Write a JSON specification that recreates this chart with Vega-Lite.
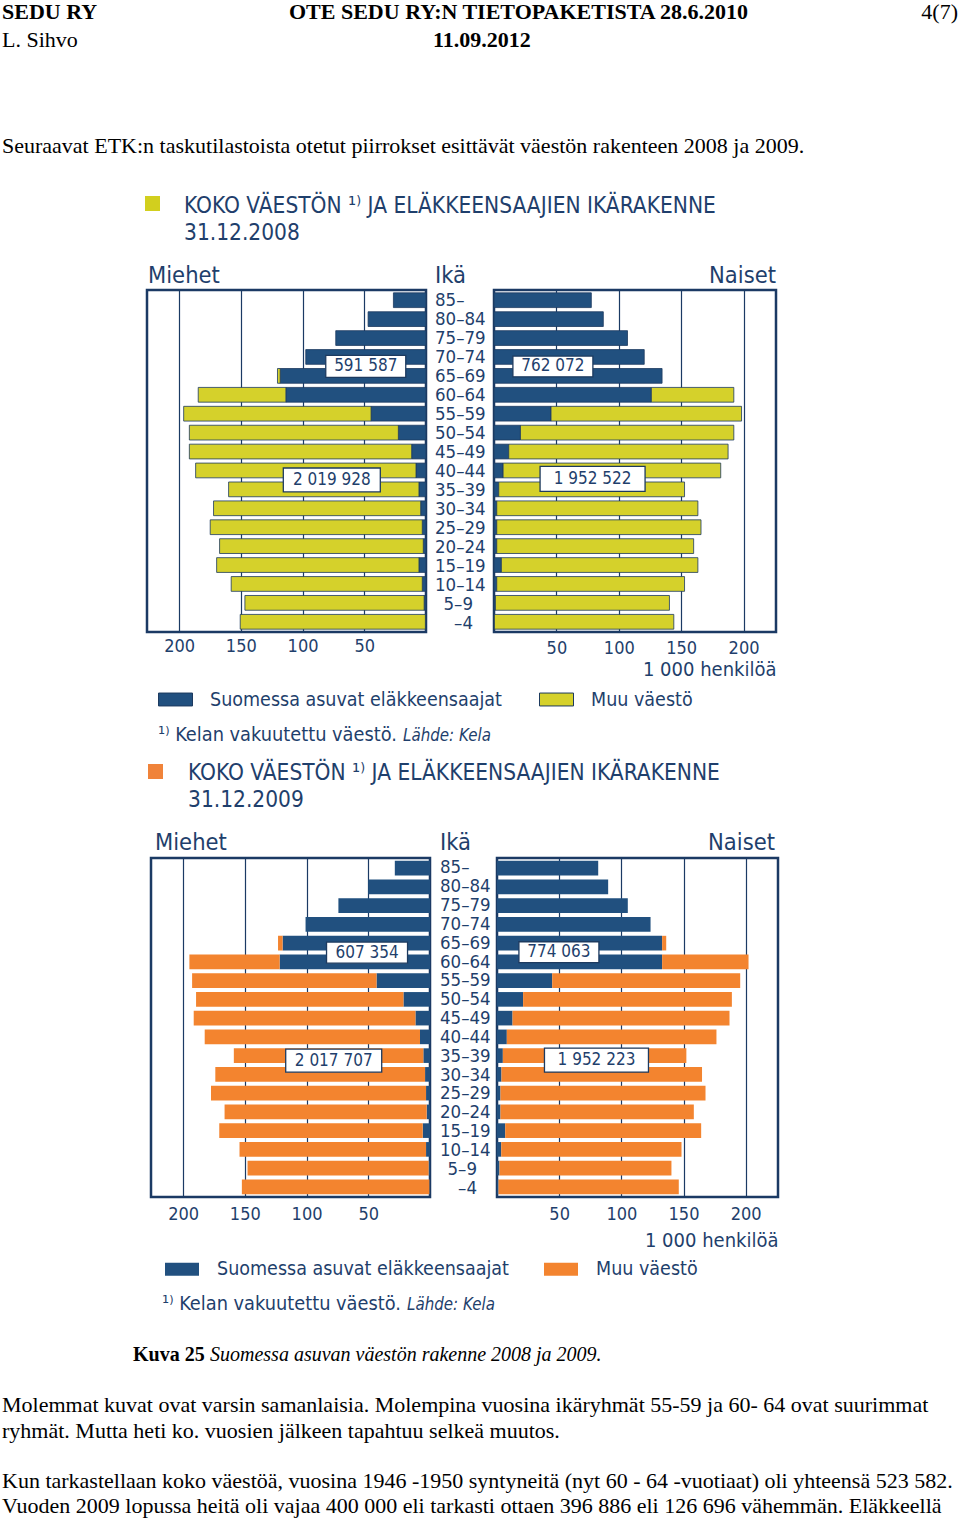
{
"$schema": "https://vega.github.io/schema/vega-lite/v6.json",
"padding": 0,
"background": "white",
"spacing": 0,
"resolve": {"scale": {"color": "independent"}, "legend": {"color": "independent"}},
"datasets": {
"ages": [{"age":"85–"},{"age":"80–84"},{"age":"75–79"},{"age":"70–74"},{"age":"65–69"},{"age":"60–64"},{"age":"55–59"},{"age":"50–54"},{"age":"45–49"},{"age":"40–44"},{"age":"35–39"},{"age":"30–34"},{"age":"25–29"},{"age":"20–24"},{"age":"15–19"},{"age":"10–14"},{"age":"5–9"},{"age":"–4"}],
"totals": [
{"year":2008,"sex":"Miehet","type":"Suomessa asuvat eläkkeensaajat","total":591587},
{"year":2008,"sex":"Miehet","type":"Muu väestö","total":2019928},
{"year":2008,"sex":"Naiset","type":"Suomessa asuvat eläkkeensaajat","total":762072},
{"year":2008,"sex":"Naiset","type":"Muu väestö","total":1952522},
{"year":2009,"sex":"Miehet","type":"Suomessa asuvat eläkkeensaajat","total":607354},
{"year":2009,"sex":"Miehet","type":"Muu väestö","total":2017707},
{"year":2009,"sex":"Naiset","type":"Suomessa asuvat eläkkeensaajat","total":774063},
{"year":2009,"sex":"Naiset","type":"Muu väestö","total":1952223}
],
"pop": [
{"year":2008,"sex":"Miehet","age":"85–","type":"Suomessa asuvat eläkkeensaajat","value":26.4},
{"year":2008,"sex":"Miehet","age":"80–84","type":"Suomessa asuvat eläkkeensaajat","value":46.9},
{"year":2008,"sex":"Miehet","age":"75–79","type":"Suomessa asuvat eläkkeensaajat","value":73.1},
{"year":2008,"sex":"Miehet","age":"70–74","type":"Suomessa asuvat eläkkeensaajat","value":97.4},
{"year":2008,"sex":"Miehet","age":"65–69","type":"Suomessa asuvat eläkkeensaajat","value":118.1},
{"year":2008,"sex":"Miehet","age":"60–64","type":"Suomessa asuvat eläkkeensaajat","value":113.5},
{"year":2008,"sex":"Miehet","age":"55–59","type":"Suomessa asuvat eläkkeensaajat","value":44.5},
{"year":2008,"sex":"Miehet","age":"50–54","type":"Suomessa asuvat eläkkeensaajat","value":22.4},
{"year":2008,"sex":"Miehet","age":"45–49","type":"Suomessa asuvat eläkkeensaajat","value":11.6},
{"year":2008,"sex":"Miehet","age":"40–44","type":"Suomessa asuvat eläkkeensaajat","value":8.1},
{"year":2008,"sex":"Miehet","age":"35–39","type":"Suomessa asuvat eläkkeensaajat","value":5.7},
{"year":2008,"sex":"Miehet","age":"30–34","type":"Suomessa asuvat eläkkeensaajat","value":4.3},
{"year":2008,"sex":"Miehet","age":"25–29","type":"Suomessa asuvat eläkkeensaajat","value":3.0},
{"year":2008,"sex":"Miehet","age":"20–24","type":"Suomessa asuvat eläkkeensaajat","value":2.2},
{"year":2008,"sex":"Miehet","age":"15–19","type":"Suomessa asuvat eläkkeensaajat","value":5.7},
{"year":2008,"sex":"Miehet","age":"10–14","type":"Suomessa asuvat eläkkeensaajat","value":3.0},
{"year":2008,"sex":"Miehet","age":"5–9","type":"Suomessa asuvat eläkkeensaajat","value":1.5},
{"year":2008,"sex":"Miehet","age":"–4","type":"Suomessa asuvat eläkkeensaajat","value":0.5},
{"year":2008,"sex":"Miehet","age":"65–69","type":"Muu väestö","value":2.2},
{"year":2008,"sex":"Miehet","age":"60–64","type":"Muu väestö","value":71.0},
{"year":2008,"sex":"Miehet","age":"55–59","type":"Muu väestö","value":151.8},
{"year":2008,"sex":"Miehet","age":"50–54","type":"Muu väestö","value":169.3},
{"year":2008,"sex":"Miehet","age":"45–49","type":"Muu väestö","value":180.1},
{"year":2008,"sex":"Miehet","age":"40–44","type":"Muu väestö","value":178.5},
{"year":2008,"sex":"Miehet","age":"35–39","type":"Muu väestö","value":154.2},
{"year":2008,"sex":"Miehet","age":"30–34","type":"Muu väestö","value":167.8},
{"year":2008,"sex":"Miehet","age":"25–29","type":"Muu väestö","value":171.8},
{"year":2008,"sex":"Miehet","age":"20–24","type":"Muu väestö","value":165.0},
{"year":2008,"sex":"Miehet","age":"15–19","type":"Muu väestö","value":163.9},
{"year":2008,"sex":"Miehet","age":"10–14","type":"Muu väestö","value":154.8},
{"year":2008,"sex":"Miehet","age":"5–9","type":"Muu väestö","value":145.2},
{"year":2008,"sex":"Miehet","age":"–4","type":"Muu väestö","value":150.0},
{"year":2008,"sex":"Naiset","age":"85–","type":"Suomessa asuvat eläkkeensaajat","value":78.0},
{"year":2008,"sex":"Naiset","age":"80–84","type":"Suomessa asuvat eläkkeensaajat","value":87.6},
{"year":2008,"sex":"Naiset","age":"75–79","type":"Suomessa asuvat eläkkeensaajat","value":107.0},
{"year":2008,"sex":"Naiset","age":"70–74","type":"Suomessa asuvat eläkkeensaajat","value":120.4},
{"year":2008,"sex":"Naiset","age":"65–69","type":"Suomessa asuvat eläkkeensaajat","value":134.7},
{"year":2008,"sex":"Naiset","age":"60–64","type":"Suomessa asuvat eläkkeensaajat","value":126.1},
{"year":2008,"sex":"Naiset","age":"55–59","type":"Suomessa asuvat eläkkeensaajat","value":45.7},
{"year":2008,"sex":"Naiset","age":"50–54","type":"Suomessa asuvat eläkkeensaajat","value":21.2},
{"year":2008,"sex":"Naiset","age":"45–49","type":"Suomessa asuvat eläkkeensaajat","value":11.8},
{"year":2008,"sex":"Naiset","age":"40–44","type":"Suomessa asuvat eläkkeensaajat","value":7.3},
{"year":2008,"sex":"Naiset","age":"35–39","type":"Suomessa asuvat eläkkeensaajat","value":3.8},
{"year":2008,"sex":"Naiset","age":"30–34","type":"Suomessa asuvat eläkkeensaajat","value":2.2},
{"year":2008,"sex":"Naiset","age":"25–29","type":"Suomessa asuvat eläkkeensaajat","value":2.2},
{"year":2008,"sex":"Naiset","age":"20–24","type":"Suomessa asuvat eläkkeensaajat","value":2.2},
{"year":2008,"sex":"Naiset","age":"15–19","type":"Suomessa asuvat eläkkeensaajat","value":5.9},
{"year":2008,"sex":"Naiset","age":"10–14","type":"Suomessa asuvat eläkkeensaajat","value":2.2},
{"year":2008,"sex":"Naiset","age":"5–9","type":"Suomessa asuvat eläkkeensaajat","value":1.1},
{"year":2008,"sex":"Naiset","age":"–4","type":"Suomessa asuvat eläkkeensaajat","value":0.3},
{"year":2008,"sex":"Naiset","age":"60–64","type":"Muu väestö","value":66.1},
{"year":2008,"sex":"Naiset","age":"55–59","type":"Muu väestö","value":152.7},
{"year":2008,"sex":"Naiset","age":"50–54","type":"Muu väestö","value":171.0},
{"year":2008,"sex":"Naiset","age":"45–49","type":"Muu väestö","value":175.8},
{"year":2008,"sex":"Naiset","age":"40–44","type":"Muu väestö","value":174.4},
{"year":2008,"sex":"Naiset","age":"35–39","type":"Muu väestö","value":148.9},
{"year":2008,"sex":"Naiset","age":"30–34","type":"Muu väestö","value":161.2},
{"year":2008,"sex":"Naiset","age":"25–29","type":"Muu väestö","value":163.7},
{"year":2008,"sex":"Naiset","age":"20–24","type":"Muu väestö","value":157.8},
{"year":2008,"sex":"Naiset","age":"15–19","type":"Muu väestö","value":157.5},
{"year":2008,"sex":"Naiset","age":"10–14","type":"Muu väestö","value":150.5},
{"year":2008,"sex":"Naiset","age":"5–9","type":"Muu väestö","value":139.5},
{"year":2008,"sex":"Naiset","age":"–4","type":"Muu väestö","value":143.8},
{"year":2009,"sex":"Miehet","age":"85–","type":"Suomessa asuvat eläkkeensaajat","value":28.5},
{"year":2009,"sex":"Miehet","age":"80–84","type":"Suomessa asuvat eläkkeensaajat","value":50.0},
{"year":2009,"sex":"Miehet","age":"75–79","type":"Suomessa asuvat eläkkeensaajat","value":74.2},
{"year":2009,"sex":"Miehet","age":"70–74","type":"Suomessa asuvat eläkkeensaajat","value":100.8},
{"year":2009,"sex":"Miehet","age":"65–69","type":"Suomessa asuvat eläkkeensaajat","value":119.4},
{"year":2009,"sex":"Miehet","age":"60–64","type":"Suomessa asuvat eläkkeensaajat","value":121.8},
{"year":2009,"sex":"Miehet","age":"55–59","type":"Suomessa asuvat eläkkeensaajat","value":43.3},
{"year":2009,"sex":"Miehet","age":"50–54","type":"Suomessa asuvat eläkkeensaajat","value":21.5},
{"year":2009,"sex":"Miehet","age":"45–49","type":"Suomessa asuvat eläkkeensaajat","value":11.8},
{"year":2009,"sex":"Miehet","age":"40–44","type":"Suomessa asuvat eläkkeensaajat","value":8.1},
{"year":2009,"sex":"Miehet","age":"35–39","type":"Suomessa asuvat eläkkeensaajat","value":5.4},
{"year":2009,"sex":"Miehet","age":"30–34","type":"Suomessa asuvat eläkkeensaajat","value":4.0},
{"year":2009,"sex":"Miehet","age":"25–29","type":"Suomessa asuvat eläkkeensaajat","value":3.2},
{"year":2009,"sex":"Miehet","age":"20–24","type":"Suomessa asuvat eläkkeensaajat","value":2.7},
{"year":2009,"sex":"Miehet","age":"15–19","type":"Suomessa asuvat eläkkeensaajat","value":5.9},
{"year":2009,"sex":"Miehet","age":"10–14","type":"Suomessa asuvat eläkkeensaajat","value":3.2},
{"year":2009,"sex":"Miehet","age":"5–9","type":"Suomessa asuvat eläkkeensaajat","value":1.1},
{"year":2009,"sex":"Miehet","age":"–4","type":"Suomessa asuvat eläkkeensaajat","value":0.5},
{"year":2009,"sex":"Miehet","age":"65–69","type":"Muu väestö","value":3.7},
{"year":2009,"sex":"Miehet","age":"60–64","type":"Muu väestö","value":73.1},
{"year":2009,"sex":"Miehet","age":"55–59","type":"Muu väestö","value":149.4},
{"year":2009,"sex":"Miehet","age":"50–54","type":"Muu väestö","value":168.0},
{"year":2009,"sex":"Miehet","age":"45–49","type":"Muu väestö","value":179.6},
{"year":2009,"sex":"Miehet","age":"40–44","type":"Muu väestö","value":174.4},
{"year":2009,"sex":"Miehet","age":"35–39","type":"Muu väestö","value":153.5},
{"year":2009,"sex":"Miehet","age":"30–34","type":"Muu väestö","value":169.9},
{"year":2009,"sex":"Miehet","age":"25–29","type":"Muu väestö","value":174.2},
{"year":2009,"sex":"Miehet","age":"20–24","type":"Muu väestö","value":163.7},
{"year":2009,"sex":"Miehet","age":"15–19","type":"Muu väestö","value":164.8},
{"year":2009,"sex":"Miehet","age":"10–14","type":"Muu väestö","value":151.1},
{"year":2009,"sex":"Miehet","age":"5–9","type":"Muu väestö","value":146.7},
{"year":2009,"sex":"Miehet","age":"–4","type":"Muu väestö","value":151.9},
{"year":2009,"sex":"Naiset","age":"85–","type":"Suomessa asuvat eläkkeensaajat","value":81.4},
{"year":2009,"sex":"Naiset","age":"80–84","type":"Suomessa asuvat eläkkeensaajat","value":89.4},
{"year":2009,"sex":"Naiset","age":"75–79","type":"Suomessa asuvat eläkkeensaajat","value":105.2},
{"year":2009,"sex":"Naiset","age":"70–74","type":"Suomessa asuvat eläkkeensaajat","value":123.5},
{"year":2009,"sex":"Naiset","age":"65–69","type":"Suomessa asuvat eläkkeensaajat","value":132.8},
{"year":2009,"sex":"Naiset","age":"60–64","type":"Suomessa asuvat eläkkeensaajat","value":132.8},
{"year":2009,"sex":"Naiset","age":"55–59","type":"Suomessa asuvat eläkkeensaajat","value":44.4},
{"year":2009,"sex":"Naiset","age":"50–54","type":"Suomessa asuvat eläkkeensaajat","value":21.0},
{"year":2009,"sex":"Naiset","age":"45–49","type":"Suomessa asuvat eläkkeensaajat","value":12.5},
{"year":2009,"sex":"Naiset","age":"40–44","type":"Suomessa asuvat eläkkeensaajat","value":7.9},
{"year":2009,"sex":"Naiset","age":"35–39","type":"Suomessa asuvat eläkkeensaajat","value":4.7},
{"year":2009,"sex":"Naiset","age":"30–34","type":"Suomessa asuvat eläkkeensaajat","value":3.6},
{"year":2009,"sex":"Naiset","age":"25–29","type":"Suomessa asuvat eläkkeensaajat","value":2.8},
{"year":2009,"sex":"Naiset","age":"20–24","type":"Suomessa asuvat eläkkeensaajat","value":2.8},
{"year":2009,"sex":"Naiset","age":"15–19","type":"Suomessa asuvat eläkkeensaajat","value":6.6},
{"year":2009,"sex":"Naiset","age":"10–14","type":"Suomessa asuvat eläkkeensaajat","value":3.4},
{"year":2009,"sex":"Naiset","age":"5–9","type":"Suomessa asuvat eläkkeensaajat","value":2.0},
{"year":2009,"sex":"Naiset","age":"–4","type":"Suomessa asuvat eläkkeensaajat","value":1.2},
{"year":2009,"sex":"Naiset","age":"65–69","type":"Muu väestö","value":3.3},
{"year":2009,"sex":"Naiset","age":"60–64","type":"Muu väestö","value":69.5},
{"year":2009,"sex":"Naiset","age":"55–59","type":"Muu väestö","value":151.2},
{"year":2009,"sex":"Naiset","age":"50–54","type":"Muu väestö","value":167.9},
{"year":2009,"sex":"Naiset","age":"45–49","type":"Muu väestö","value":174.5},
{"year":2009,"sex":"Naiset","age":"40–44","type":"Muu väestö","value":168.6},
{"year":2009,"sex":"Naiset","age":"35–39","type":"Muu väestö","value":147.6},
{"year":2009,"sex":"Naiset","age":"30–34","type":"Muu väestö","value":161.3},
{"year":2009,"sex":"Naiset","age":"25–29","type":"Muu väestö","value":164.9},
{"year":2009,"sex":"Naiset","age":"20–24","type":"Muu väestö","value":155.5},
{"year":2009,"sex":"Naiset","age":"15–19","type":"Muu väestö","value":157.6},
{"year":2009,"sex":"Naiset","age":"10–14","type":"Muu väestö","value":145.0},
{"year":2009,"sex":"Naiset","age":"5–9","type":"Muu väestö","value":138.3},
{"year":2009,"sex":"Naiset","age":"–4","type":"Muu väestö","value":145.0}
]
},
"vconcat": [
{"spacing": 0, "hconcat": [
 {"width": 289, "height": 28, "data": {"values": []}, "mark": "point", "title": {"text": "SEDU RY", "offset": -26, "dx": 2, "fontWeight": "bold"}},
 {"width": 480, "height": 28, "data": {"values": []}, "mark": "point", "title": {"text": "OTE SEDU RY:N TIETOPAKETISTA 28.6.2010", "offset": -26, "fontWeight": "bold"}},
 {"width": 189, "height": 28, "data": {"values": []}, "mark": "point", "title": {"text": "4(7)", "offset": -26, "anchor": "end"}}
]},
{"spacing": 0, "hconcat": [
 {"width": 433, "height": 106, "data": {"values": []}, "mark": "point", "title": {"text": "L. Sihvo", "offset": -104, "dx": 2}},
 {"width": 200, "height": 106, "data": {"values": []}, "mark": "point", "title": {"text": "11.09.2012", "offset": -104, "fontWeight": "bold"}}
]},
{"width": 900, "height": 61, "data": {"values": []}, "mark": "point", "title": {"text": "Seuraavat ETK:n taskutilastoista otetut piirrokset esittävät väestön rakenteen 2008 ja 2009.", "offset": -59, "dx": 2}},
{"spacing": 0, "hconcat": [
 {"width": 145, "height": 67, "data": {"values": []}, "mark": "point"},
 {"width": 15, "height": 15, "data": {"values": [{"vuosi": 2008}]}, "mark": {"type": "square", "size": 225, "filled": true, "color": "#d2cf1e", "opacity": 1},
  "title": {"text": ["KOKO VÄESTÖN ¹⁾ JA ELÄKKEENSAAJIEN IKÄRAKENNE", "31.12.2008"], "offset": -16, "dx": 39, "font": "DejaVu Sans Condensed, Liberation Sans Narrow, DejaVu Sans, sans-serif", "fontSize": 22.5, "lineHeight": 27, "color": "#1f3f6c"}}
]},
{"spacing": 0, "hconcat": [
 {"width": 147, "height": 25, "data": {"values": []}, "mark": "point"},
 {"width": 279, "height": 25, "data": {"values": []}, "mark": "point", "title": {"text": "Miehet", "offset": -24, "dx": 1, "font": "DejaVu Sans Condensed, Liberation Sans Narrow, DejaVu Sans, sans-serif", "fontSize": 23.5, "color": "#1f3f6c"}},
 {"width": 68, "height": 25, "data": {"values": []}, "mark": "point", "title": {"text": "Ikä", "offset": -24, "dx": 9, "font": "DejaVu Sans Condensed, Liberation Sans Narrow, DejaVu Sans, sans-serif", "fontSize": 23.5, "color": "#1f3f6c"}},
 {"width": 282, "height": 25, "data": {"values": []}, "mark": "point", "title": {"text": "Naiset", "offset": -24, "anchor": "end", "font": "DejaVu Sans Condensed, Liberation Sans Narrow, DejaVu Sans, sans-serif", "fontSize": 23.5, "color": "#1f3f6c"}}
]},
{"spacing": 0, "hconcat": [
 {"width": 145, "height": 433, "data": {"values": []}, "mark": "point"},
 {"width": 279, "height": 342, "view": {"stroke": "#1b3a64", "strokeWidth": 2.5},
  "layer": [
   {"data": {"name": "pop"}, "transform": [{"filter": "datum.year === 2008 && datum.sex === 'Miehet'"}],
    "mark": {"type": "bar", "stroke": "#1d3a5f", "strokeWidth": 0.8},
    "encoding": {
     "y": {"field": "age", "type": "nominal", "scale": {"domain": ["85–","80–84","75–79","70–74","65–69","60–64","55–59","50–54","45–49","40–44","35–39","30–34","25–29","20–24","15–19","10–14","5–9","–4"], "paddingInner": 0.22, "paddingOuter": 0.15}, "axis": null},
     "x": {"field": "value", "type": "quantitative", "stack": "zero", "scale": {"domain": [0, 226], "reverse": true, "nice": false}, "axis": {"values": [50, 100, 150, 200], "grid": true, "labelPadding": 5, "title": null}},
     "color": {"field": "type", "type": "nominal", "scale": {"domain": ["Suomessa asuvat eläkkeensaajat", "Muu väestö"], "range": ["#21507f", "#d5d12b"]},
       "legend": {"orient": "none", "legendX": 158, "legendY": 392, "direction": "horizontal", "title": null, "symbolType": "M-1,-0.38L1,-0.38L1,0.38L-1,0.38Z", "symbolSize": 1156, "symbolStrokeColor": "#1d3a5f", "symbolStrokeWidth": 1, "labelOffset": 17, "columnPadding": 35, "symbolOpacity": 1}},
     "order": {"field": "type", "sort": "descending"}
    }},
   {"data": {"name": "totals"}, "transform": [{"filter": "datum.year === 2008 && datum.sex === 'Miehet' && datum.type === 'Suomessa asuvat eläkkeensaajat'"}],
    "mark": {"type": "point", "shape": "M-1,-0.275L1,-0.275L1,0.275L-1,0.275Z", "size": 6400, "filled": true, "fill": "white", "stroke": "#1d3a5f", "strokeWidth": 1.3, "opacity": 1, "yOffset": 9.5},
    "encoding": {"x": {"datum": 48.8}, "y": {"datum": "70–74"}}},
   {"data": {"name": "totals"}, "transform": [{"filter": "datum.year === 2008 && datum.sex === 'Miehet' && datum.type === 'Suomessa asuvat eläkkeensaajat'"}],
    "mark": {"type": "text", "fontSize": 17, "color": "#1f3f6c", "yOffset": 9.5},
    "encoding": {"x": {"datum": 48.8}, "y": {"datum": "70–74"}, "text": {"field": "total", "type": "quantitative", "format": ",d"}}},
   {"data": {"name": "totals"}, "transform": [{"filter": "datum.year === 2008 && datum.sex === 'Miehet' && datum.type === 'Muu väestö'"}],
    "mark": {"type": "point", "shape": "M-1,-0.247L1,-0.247L1,0.247L-1,0.247Z", "size": 9409, "filled": true, "fill": "white", "stroke": "#1d3a5f", "strokeWidth": 1.3, "opacity": 1, "yOffset": 9.5},
    "encoding": {"x": {"datum": 76.3}, "y": {"datum": "40–44"}}},
   {"data": {"name": "totals"}, "transform": [{"filter": "datum.year === 2008 && datum.sex === 'Miehet' && datum.type === 'Muu väestö'"}],
    "mark": {"type": "text", "fontSize": 17, "color": "#1f3f6c", "yOffset": 9.5},
    "encoding": {"x": {"datum": 76.3}, "y": {"datum": "40–44"}, "text": {"field": "total", "type": "quantitative", "format": ",d"}}}
  ]},
 {"width": 64, "height": 342, "data": {"name": "ages"},
  "layer": [
   {"transform": [{"filter": "datum.age !== '5–9' && datum.age !== '–4'"}], "mark": {"type": "text", "align": "left", "dx": -25, "fontSize": 18.5, "color": "#1f3f6c"},
    "encoding": {"y": {"field": "age", "type": "nominal", "scale": {"domain": ["85–","80–84","75–79","70–74","65–69","60–64","55–59","50–54","45–49","40–44","35–39","30–34","25–29","20–24","15–19","10–14","5–9","–4"], "paddingInner": 0.22, "paddingOuter": 0.15}, "axis": null}, "text": {"field": "age"}}},
   {"transform": [{"filter": "datum.age === '5–9' || datum.age === '–4'"}], "mark": {"type": "text", "align": "right", "dx": 13, "fontSize": 18.5, "color": "#1f3f6c"},
    "encoding": {"y": {"field": "age", "type": "nominal", "axis": null}, "text": {"field": "age"}}}
  ]},
 {"width": 282, "height": 342, "view": {"stroke": "#1b3a64", "strokeWidth": 2.5},
  "layer": [
   {"data": {"name": "pop"}, "transform": [{"filter": "datum.year === 2008 && datum.sex === 'Naiset'"}],
    "mark": {"type": "bar", "stroke": "#1d3a5f", "strokeWidth": 0.8},
    "encoding": {
     "y": {"field": "age", "type": "nominal", "scale": {"domain": ["85–","80–84","75–79","70–74","65–69","60–64","55–59","50–54","45–49","40–44","35–39","30–34","25–29","20–24","15–19","10–14","5–9","–4"], "paddingInner": 0.22, "paddingOuter": 0.15}, "axis": null},
     "x": {"field": "value", "type": "quantitative", "stack": "zero", "scale": {"domain": [0, 226], "nice": false}, "axis": {"values": [50, 100, 150, 200], "grid": true, "labelPadding": 7, "title": "1 000 henkilöä", "titleAnchor": "end", "titleFont": "DejaVu Sans Condensed, Liberation Sans Narrow, DejaVu Sans, sans-serif", "titleFontSize": 20, "titleFontWeight": "normal", "titleColor": "#1f3f6c", "titlePadding": 2}},
     "color": {"field": "type", "type": "nominal", "scale": {"domain": ["Suomessa asuvat eläkkeensaajat", "Muu väestö"], "range": ["#21507f", "#d5d12b"]},
       "legend": {"orient": "none", "legendX": 158, "legendY": 392, "direction": "horizontal", "title": null, "symbolType": "M-1,-0.38L1,-0.38L1,0.38L-1,0.38Z", "symbolSize": 1156, "symbolStrokeColor": "#1d3a5f", "symbolStrokeWidth": 1, "labelOffset": 17, "columnPadding": 35, "symbolOpacity": 1}},
     "order": {"field": "type", "sort": "descending"}
    }},
   {"data": {"name": "totals"}, "transform": [{"filter": "datum.year === 2008 && datum.sex === 'Naiset' && datum.type === 'Suomessa asuvat eläkkeensaajat'"}],
    "mark": {"type": "point", "shape": "M-1,-0.26L1,-0.26L1,0.26L-1,0.26Z", "size": 6400, "filled": true, "fill": "white", "stroke": "#1d3a5f", "strokeWidth": 1.3, "opacity": 1, "yOffset": 9.5},
    "encoding": {"x": {"datum": 47.2}, "y": {"datum": "70–74"}}},
   {"data": {"name": "totals"}, "transform": [{"filter": "datum.year === 2008 && datum.sex === 'Naiset' && datum.type === 'Suomessa asuvat eläkkeensaajat'"}],
    "mark": {"type": "text", "fontSize": 17, "color": "#1f3f6c", "yOffset": 9.5},
    "encoding": {"x": {"datum": 47.2}, "y": {"datum": "70–74"}, "text": {"field": "total", "type": "quantitative", "format": ",d"}}},
   {"data": {"name": "totals"}, "transform": [{"filter": "datum.year === 2008 && datum.sex === 'Naiset' && datum.type === 'Muu väestö'"}],
    "mark": {"type": "point", "shape": "M-1,-0.238L1,-0.238L1,0.238L-1,0.238Z", "size": 11025, "filled": true, "fill": "white", "stroke": "#1d3a5f", "strokeWidth": 1.3, "opacity": 1, "yOffset": 8.5},
    "encoding": {"x": {"datum": 79}, "y": {"datum": "40–44"}}},
   {"data": {"name": "totals"}, "transform": [{"filter": "datum.year === 2008 && datum.sex === 'Naiset' && datum.type === 'Muu väestö'"}],
    "mark": {"type": "text", "fontSize": 17, "color": "#1f3f6c", "yOffset": 8.5},
    "encoding": {"x": {"datum": 79}, "y": {"datum": "40–44"}, "text": {"field": "total", "type": "quantitative", "format": ",d"}}}
  ]}
]},
{"spacing": 6, "hconcat": [
 {"width": 152, "height": 39, "data": {"values": []}, "mark": "point"},
 {"width": 1, "height": 39, "data": {"values": []}, "mark": "point", "title": {"text": "¹⁾ Kelan vakuutettu väestö.", "offset": -36.6, "font": "DejaVu Sans Condensed, Liberation Sans Narrow, DejaVu Sans, sans-serif", "fontSize": 19.8, "color": "#1f3f6c"}},
 {"width": 1, "height": 39, "data": {"values": []}, "mark": "point", "title": {"text": "Lähde: Kela", "offset": -34.3, "font": "DejaVu Sans Condensed, Liberation Sans Narrow, DejaVu Sans, sans-serif", "fontSize": 16.8, "fontStyle": "italic", "color": "#1f3f6c"}}
]},
{"spacing": 0, "hconcat": [
 {"width": 148, "height": 66, "data": {"values": []}, "mark": "point"},
 {"width": 15, "height": 15, "data": {"values": [{"vuosi": 2009}]}, "mark": {"type": "square", "size": 225, "filled": true, "color": "#f0833a", "opacity": 1},
  "title": {"text": ["KOKO VÄESTÖN ¹⁾ JA ELÄKKEENSAAJIEN IKÄRAKENNE", "31.12.2009"], "offset": -17, "dx": 40, "font": "DejaVu Sans Condensed, Liberation Sans Narrow, DejaVu Sans, sans-serif", "fontSize": 22.5, "lineHeight": 27, "color": "#1f3f6c"}}
]},
{"spacing": 0, "hconcat": [
 {"width": 151, "height": 26, "data": {"values": []}, "mark": "point"},
 {"width": 279, "height": 26, "data": {"values": []}, "mark": "point", "title": {"text": "Miehet", "offset": -25, "dx": 4, "font": "DejaVu Sans Condensed, Liberation Sans Narrow, DejaVu Sans, sans-serif", "fontSize": 23.5, "color": "#1f3f6c"}},
 {"width": 67, "height": 26, "data": {"values": []}, "mark": "point", "title": {"text": "Ikä", "offset": -25, "dx": 10, "font": "DejaVu Sans Condensed, Liberation Sans Narrow, DejaVu Sans, sans-serif", "fontSize": 23.5, "color": "#1f3f6c"}},
 {"width": 281, "height": 26, "data": {"values": []}, "mark": "point", "title": {"text": "Naiset", "offset": -25, "anchor": "end", "dx": -3, "font": "DejaVu Sans Condensed, Liberation Sans Narrow, DejaVu Sans, sans-serif", "fontSize": 23.5, "color": "#1f3f6c"}}
]},
{"spacing": 0, "hconcat": [
 {"width": 149, "height": 434, "data": {"values": []}, "mark": "point"},
 {"width": 279, "height": 339, "view": {"stroke": "#1b3a64", "strokeWidth": 2.5},
  "layer": [
   {"data": {"name": "pop"}, "transform": [{"filter": "datum.year === 2009 && datum.sex === 'Miehet'"}],
    "mark": {"type": "bar"},
    "encoding": {
     "y": {"field": "age", "type": "nominal", "scale": {"domain": ["85–","80–84","75–79","70–74","65–69","60–64","55–59","50–54","45–49","40–44","35–39","30–34","25–29","20–24","15–19","10–14","5–9","–4"], "paddingInner": 0.22, "paddingOuter": 0.15}, "axis": null},
     "x": {"field": "value", "type": "quantitative", "stack": "zero", "scale": {"domain": [0, 226], "reverse": true, "nice": false}, "axis": {"values": [50, 100, 150, 200], "grid": true, "labelPadding": 8, "title": null}},
     "color": {"field": "type", "type": "nominal", "scale": {"domain": ["Suomessa asuvat eläkkeensaajat", "Muu väestö"], "range": ["#21507f", "#f3842f"]},
       "legend": {"orient": "none", "legendX": 165, "legendY": 394, "direction": "horizontal", "title": null, "symbolType": "M-1,-0.38L1,-0.38L1,0.38L-1,0.38Z", "symbolSize": 1156, "symbolStrokeWidth": 0, "labelOffset": 18, "columnPadding": 35, "symbolOpacity": 1}},
     "order": {"field": "type", "sort": "descending"}
    }},
   {"data": {"name": "totals"}, "transform": [{"filter": "datum.year === 2009 && datum.sex === 'Miehet' && datum.type === 'Suomessa asuvat eläkkeensaajat'"}],
    "mark": {"type": "point", "shape": "M-1,-0.26L1,-0.26L1,0.26L-1,0.26Z", "size": 6561, "filled": true, "fill": "white", "stroke": "#1d3a5f", "strokeWidth": 1.3, "opacity": 1, "yOffset": 9.5},
    "encoding": {"x": {"datum": 51}, "y": {"datum": "65–69"}}},
   {"data": {"name": "totals"}, "transform": [{"filter": "datum.year === 2009 && datum.sex === 'Miehet' && datum.type === 'Suomessa asuvat eläkkeensaajat'"}],
    "mark": {"type": "text", "fontSize": 17, "color": "#1f3f6c", "yOffset": 9.5},
    "encoding": {"x": {"datum": 51}, "y": {"datum": "65–69"}, "text": {"field": "total", "type": "quantitative", "format": ",d"}}},
   {"data": {"name": "totals"}, "transform": [{"filter": "datum.year === 2009 && datum.sex === 'Miehet' && datum.type === 'Muu väestö'"}],
    "mark": {"type": "point", "shape": "M-1,-0.24L1,-0.24L1,0.24L-1,0.24Z", "size": 9216, "filled": true, "fill": "white", "stroke": "#1d3a5f", "strokeWidth": 1.3, "opacity": 1, "yOffset": 5},
    "encoding": {"x": {"datum": 78}, "y": {"datum": "35–39"}}},
   {"data": {"name": "totals"}, "transform": [{"filter": "datum.year === 2009 && datum.sex === 'Miehet' && datum.type === 'Muu väestö'"}],
    "mark": {"type": "text", "fontSize": 17, "color": "#1f3f6c", "yOffset": 5},
    "encoding": {"x": {"datum": 78}, "y": {"datum": "35–39"}, "text": {"field": "total", "type": "quantitative", "format": ",d"}}}
  ]},
 {"width": 63, "height": 339, "data": {"name": "ages"},
  "layer": [
   {"transform": [{"filter": "datum.age !== '5–9' && datum.age !== '–4'"}], "mark": {"type": "text", "align": "left", "dx": -23.5, "fontSize": 18.5, "color": "#1f3f6c"},
    "encoding": {"y": {"field": "age", "type": "nominal", "scale": {"domain": ["85–","80–84","75–79","70–74","65–69","60–64","55–59","50–54","45–49","40–44","35–39","30–34","25–29","20–24","15–19","10–14","5–9","–4"], "paddingInner": 0.22, "paddingOuter": 0.15}, "axis": null}, "text": {"field": "age"}}},
   {"transform": [{"filter": "datum.age === '5–9' || datum.age === '–4'"}], "mark": {"type": "text", "align": "right", "dx": 13.5, "fontSize": 18.5, "color": "#1f3f6c"},
    "encoding": {"y": {"field": "age", "type": "nominal", "axis": null}, "text": {"field": "age"}}}
  ]},
 {"width": 281, "height": 339, "view": {"stroke": "#1b3a64", "strokeWidth": 2.5},
  "layer": [
   {"data": {"name": "pop"}, "transform": [{"filter": "datum.year === 2009 && datum.sex === 'Naiset'"}],
    "mark": {"type": "bar"},
    "encoding": {
     "y": {"field": "age", "type": "nominal", "scale": {"domain": ["85–","80–84","75–79","70–74","65–69","60–64","55–59","50–54","45–49","40–44","35–39","30–34","25–29","20–24","15–19","10–14","5–9","–4"], "paddingInner": 0.22, "paddingOuter": 0.15}, "axis": null},
     "x": {"field": "value", "type": "quantitative", "stack": "zero", "scale": {"domain": [0, 226], "nice": false}, "axis": {"values": [50, 100, 150, 200], "grid": true, "labelPadding": 8, "title": "1 000 henkilöä", "titleAnchor": "end", "titleFont": "DejaVu Sans Condensed, Liberation Sans Narrow, DejaVu Sans, sans-serif", "titleFontSize": 20, "titleFontWeight": "normal", "titleColor": "#1f3f6c", "titlePadding": 7}},
     "color": {"field": "type", "type": "nominal", "scale": {"domain": ["Suomessa asuvat eläkkeensaajat", "Muu väestö"], "range": ["#21507f", "#f3842f"]},
       "legend": {"orient": "none", "legendX": 165, "legendY": 394, "direction": "horizontal", "title": null, "symbolType": "M-1,-0.38L1,-0.38L1,0.38L-1,0.38Z", "symbolSize": 1156, "symbolStrokeWidth": 0, "labelOffset": 18, "columnPadding": 35, "symbolOpacity": 1}},
     "order": {"field": "type", "sort": "descending"}
    }},
   {"data": {"name": "totals"}, "transform": [{"filter": "datum.year === 2009 && datum.sex === 'Naiset' && datum.type === 'Suomessa asuvat eläkkeensaajat'"}],
    "mark": {"type": "point", "shape": "M-1,-0.26L1,-0.26L1,0.26L-1,0.26Z", "size": 6400, "filled": true, "fill": "white", "stroke": "#1d3a5f", "strokeWidth": 1.3, "opacity": 1, "yOffset": 9},
    "encoding": {"x": {"datum": 49.8}, "y": {"datum": "65–69"}}},
   {"data": {"name": "totals"}, "transform": [{"filter": "datum.year === 2009 && datum.sex === 'Naiset' && datum.type === 'Suomessa asuvat eläkkeensaajat'"}],
    "mark": {"type": "text", "fontSize": 17, "color": "#1f3f6c", "yOffset": 9},
    "encoding": {"x": {"datum": 49.8}, "y": {"datum": "65–69"}, "text": {"field": "total", "type": "quantitative", "format": ",d"}}},
   {"data": {"name": "totals"}, "transform": [{"filter": "datum.year === 2009 && datum.sex === 'Naiset' && datum.type === 'Muu väestö'"}],
    "mark": {"type": "point", "shape": "M-1,-0.23L1,-0.23L1,0.23L-1,0.23Z", "size": 10816, "filled": true, "fill": "white", "stroke": "#1d3a5f", "strokeWidth": 1.3, "opacity": 1, "yOffset": 4.5},
    "encoding": {"x": {"datum": 80}, "y": {"datum": "35–39"}}},
   {"data": {"name": "totals"}, "transform": [{"filter": "datum.year === 2009 && datum.sex === 'Naiset' && datum.type === 'Muu väestö'"}],
    "mark": {"type": "text", "fontSize": 17, "color": "#1f3f6c", "yOffset": 4.5},
    "encoding": {"x": {"datum": 80}, "y": {"datum": "35–39"}, "text": {"field": "total", "type": "quantitative", "format": ",d"}}}
  ]}
]},
{"spacing": 6, "hconcat": [
 {"width": 156, "height": 50, "data": {"values": []}, "mark": "point"},
 {"width": 1, "height": 50, "data": {"values": []}, "mark": "point", "title": {"text": "¹⁾ Kelan vakuutettu väestö.", "offset": -47.6, "font": "DejaVu Sans Condensed, Liberation Sans Narrow, DejaVu Sans, sans-serif", "fontSize": 19.8, "color": "#1f3f6c"}},
 {"width": 1, "height": 50, "data": {"values": []}, "mark": "point", "title": {"text": "Lähde: Kela", "offset": -45.3, "font": "DejaVu Sans Condensed, Liberation Sans Narrow, DejaVu Sans, sans-serif", "fontSize": 16.8, "fontStyle": "italic", "color": "#1f3f6c"}}
]},
{"spacing": 5, "hconcat": [
 {"width": 128, "height": 51, "data": {"values": []}, "mark": "point"},
 {"width": 1, "height": 51, "data": {"values": []}, "mark": "point", "title": {"text": "Kuva 25", "offset": -48, "fontSize": 20, "fontWeight": "bold"}},
 {"width": 1, "height": 51, "data": {"values": []}, "mark": "point", "title": {"text": "Suomessa asuvan väestön rakenne 2008 ja 2009.", "offset": -48, "fontSize": 20, "fontStyle": "italic"}}
]},
{"width": 950, "height": 76, "data": {"values": []}, "mark": "point", "title": {"text": ["Molemmat kuvat ovat varsin samanlaisia. Molempina vuosina ikäryhmät 55-59 ja 60- 64 ovat suurimmat", "ryhmät. Mutta heti ko. vuosien jälkeen tapahtuu selkeä muutos."], "lineHeight": 26, "offset": -74, "dx": 2}},
{"width": 950, "height": 49, "data": {"values": []}, "mark": "point", "title": {"text": ["Kun tarkastellaan koko väestöä, vuosina 1946 -1950 syntyneitä (nyt 60 - 64 -vuotiaat) oli yhteensä 523 582.", "Vuoden 2009 lopussa heitä oli vajaa 400 000 eli tarkasti ottaen 396 886 eli 126 696 vähemmän.  Eläkkeellä"], "lineHeight": 25, "offset": -47, "dx": 2}}
],
"config": {
 "view": {"stroke": null},
 "axis": {"domain": false, "ticks": false, "tickSize": 0, "labelFont": "DejaVu Sans Condensed, Liberation Sans Narrow, DejaVu Sans, sans-serif", "labelFontSize": 18, "labelColor": "#1f3f6c", "gridColor": "#1b3a64", "gridWidth": 1.2, "gridOpacity": 1, "labelFlush": false, "labelOverlap": false},
 "legend": {"labelFont": "DejaVu Sans Condensed, Liberation Sans Narrow, DejaVu Sans, sans-serif", "labelFontSize": 19.5, "labelColor": "#1f3f6c", "labelLimit": 0},
 "title": {"font": "Liberation Serif, Times New Roman, serif", "fontSize": 22, "fontWeight": "normal", "color": "#000000", "anchor": "start", "orient": "bottom", "limit": 0},
 "text": {"font": "DejaVu Sans Condensed, Liberation Sans Narrow, DejaVu Sans, sans-serif"},
 "locale": {"number": {"decimal": ",", "thousands": " ", "grouping": [3], "currency": ["", " €"]}}
}
}
